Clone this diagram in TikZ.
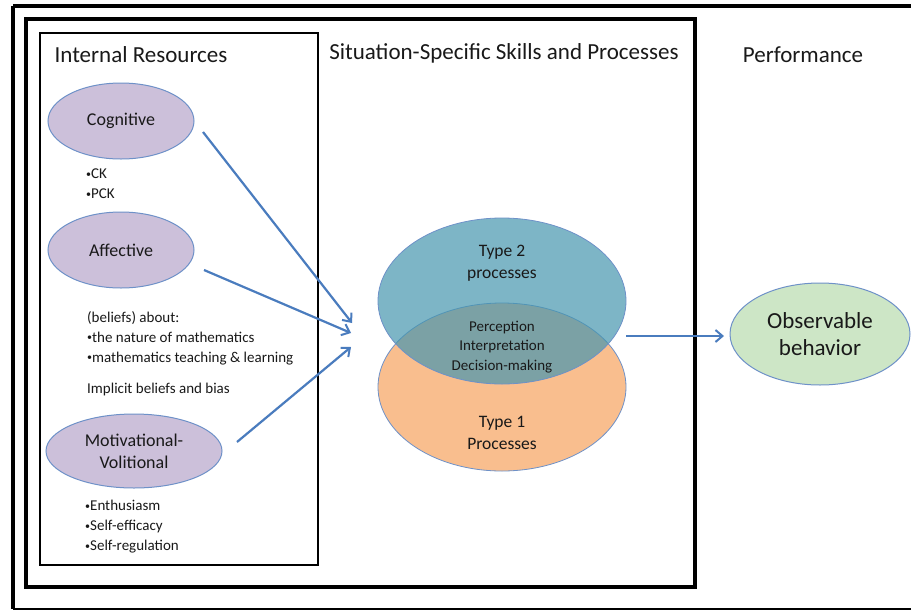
\documentclass[tikz,border=0pt]{standalone}
\usepackage{fontspec}
\setmainfont{Carlito}
\usetikzlibrary{arrows.meta,shapes.geometric}

\definecolor{edgeblue}{RGB}{110,145,200}
\definecolor{arrowblue}{RGB}{74,124,190}
\definecolor{lilac}{RGB}{204,192,218}
\definecolor{teal2}{RGB}{70,150,175}
\definecolor{peach}{RGB}{249,190,142}
\definecolor{mint}{RGB}{205,230,198}
\definecolor{ink}{RGB}{25,25,25}

% small list bullet
\newcommand{\itemdot}{\raisebox{0.22ex}{\fontsize{10}{10}\selectfont •}}

\tikzset{
  every node/.style={text=ink},
  heading/.style={font=\fontsize{23}{27}\selectfont, inner sep=0pt},
  resource/.style={ellipse, draw=edgeblue, line width=1pt, fill=lilac,
    minimum width=#1, inner sep=0pt, align=center,
    font=\fontsize{18}{22}\selectfont},
  itemlist/.style={anchor=north west, align=left, inner sep=0pt,
    font=\fontsize{15}{20}\selectfont},
  vennlabel/.style={align=center, inner sep=0pt, font=\fontsize{17.5}{22}\selectfont},
  flow/.style={draw=arrowblue, line width=2.2pt,
    -{Straight Barb[length=7pt,width=12pt,line width=2pt]}},
  frame/.style={draw=black, line width=3.5pt},
}

\begin{document}
\begin{tikzpicture}[x=1pt,y=-1pt]
\useasboundingbox (0,0) rectangle (911,611);
\fill[white] (0,0) rectangle (911,611);

% outer frame (right side runs off the page)
\draw[frame] (13,6) -- (913,6);
\draw[frame] (13,6) -- (13,609);
\draw[black, line width=1.8pt] (13,609) -- (913,609);

% middle frame: situation-specific skills
\draw[frame] (26,19) rectangle (695,587);

% internal resources box
\draw[black, line width=1.4pt] (40,33) rectangle (318,565);

% column headings
\node[heading] (hres) at (141,55) {Internal Resources};
\node[heading] (hsit) at (504,53) {Situation-Specific Skills and Processes};
\node[heading] (hperf) at (803,55) {Performance};

% resource ellipses
\node[resource=146pt, minimum height=76pt] (cog) at (121,121) {Cognitive};
\node[resource=146pt, minimum height=76pt] (aff) at (121,250) {Affective};
\node[resource=176pt, minimum height=74pt] (mot) at (134,451) {Motivational-\\Volitional};

% resource details
\node[itemlist] (cogl) at (86,169) {\itemdot CK\\\itemdot PCK};
\node[itemlist] (affl) at (87,311) {(beliefs) about:\\\itemdot the nature of mathematics\\\itemdot mathematics teaching \& learning};
\node[itemlist] (bias) at (87,383) {Implicit beliefs and bias};
\node[itemlist] (motl) at (85,500) {\itemdot Enthusiasm\\\itemdot Self-efficacy\\\itemdot Self-regulation};

% dual-process Venn diagram
\node[ellipse, draw=edgeblue, line width=0.8pt, fill=peach,
      minimum width=248pt, minimum height=168pt] (t1) at (502,387) {};
\node[ellipse, draw=edgeblue, line width=0.8pt, fill=teal2, fill opacity=0.7,
      minimum width=248pt, minimum height=166pt] (t2) at (502,301) {};
\node[vennlabel] (t2l) at (502,263) {Type 2\\processes};
\node[vennlabel, font=\fontsize{15}{19.5}\selectfont] (mid) at (502,347)
  {Perception\\Interpretation\\Decision-making};
\node[vennlabel] (t1l) at (502,433) {Type 1\\Processes};

% observable behaviour
\node[ellipse, draw=edgeblue, line width=1pt, fill=mint,
      minimum width=180pt, minimum height=102pt, align=center,
      font=\fontsize{23}{27}\selectfont] (obs) at (820,334) {Observable\\behavior};

% connectors
\coordinate (tipa) at (352,323);
\coordinate (tipb) at (351,333);
\coordinate (tipc) at (351,347);
\coordinate (srca) at (203,132);
\coordinate (srcb) at (204,270);
\coordinate (srcc) at (237,442);
\coordinate (outa) at (626,336);
\coordinate (outb) at (724,336);
\draw[flow] (srca) -- (tipa);
\draw[flow] (srcb) -- (tipb);
\draw[flow] (srcc) -- (tipc);
\draw[flow] (outa) -- (outb);
\end{tikzpicture}
\end{document}
